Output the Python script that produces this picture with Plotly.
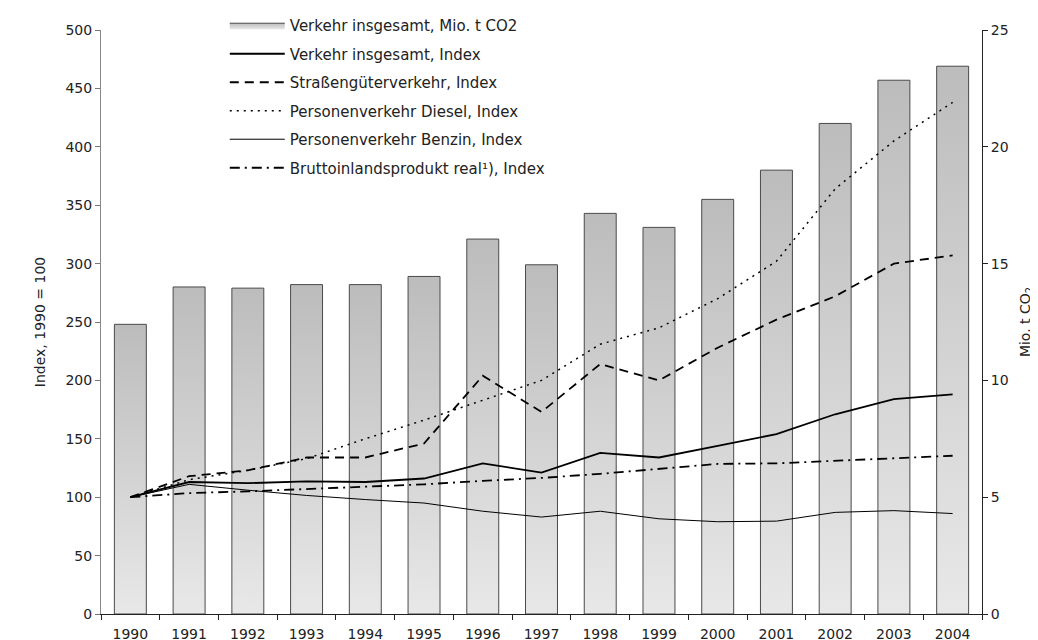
import plotly.graph_objects as go

years = list(range(1990, 2005))
year_labels = [str(y) for y in years]

co2_total = [12.4, 14.0, 13.95, 14.1, 14.1, 14.45, 16.05, 14.95, 17.15, 16.55, 17.75, 19.0, 21.0, 22.85, 23.45]
idx_total = [100, 113, 112, 113.5, 113, 116, 129, 121, 138, 134, 144, 154, 171, 184, 188]
idx_road_freight = [100, 118, 123, 134, 134, 146, 204, 173, 214, 200, 228, 252, 272, 300, 307]
idx_diesel = [100, 115, 123, 133, 150, 166, 183, 200, 231, 245, 270, 302, 364, 405, 438]
idx_petrol = [100, 111, 106, 101.5, 98, 95, 88, 83, 88, 81.5, 79, 79.5, 87, 88.5, 86]
idx_gdp = [100, 103.5, 105, 107, 109.5, 111, 114, 116.5, 120, 124, 128.5, 129, 131, 133, 135.5]

names = [
    "Verkehr insgesamt, Mio. t CO2",
    "Verkehr insgesamt, Index",
    "Straßengüterverkehr, Index",
    "Personenverkehr Diesel, Index",
    "Personenverkehr Benzin, Index",
    "Bruttoinlandsprodukt real¹), Index",
]

FONT = "DejaVu Sans"
half = 0.272

fig = go.Figure()

# Bars with vertical gradient (polygons built from the data arrays)
for i, (yr, v) in enumerate(zip(years, co2_total)):
    fig.add_trace(go.Scatter(
        x=[yr - half, yr - half, yr + half, yr + half, yr - half],
        y=[0, v, v, 0, 0],
        mode="lines",
        fill="toself",
        fillgradient=dict(type="vertical",
                          colorscale=[[0, "#e8e8e8"], [1, "#bcbcbc"]]),
        line=dict(color="#4a4a4a", width=1),
        name=names[0],
        legendgroup="g0",
        showlegend=(i == 0),
        hoverinfo="skip",
        yaxis="y",
    ))

line_specs = [
    (idx_total, names[1], dict(color="black", width=1.8, dash="solid")),
    (idx_road_freight, names[2], dict(color="black", width=1.8, dash="9px,6px")),
    (idx_diesel, names[3], dict(color="black", width=1.5, dash="2px,5px")),
    (idx_petrol, names[4], dict(color="black", width=1, dash="solid")),
    (idx_gdp, names[5], dict(color="black", width=1.8, dash="10px,5px,2px,5px")),
]
for k, (vals, nm, ln) in enumerate(line_specs):
    fig.add_trace(go.Scatter(
        x=years, y=vals, mode="lines", name=nm, line=ln,
        legendgroup=f"g{k+1}", yaxis="y2",
    ))

fig.update_layout(
    width=1038, height=640,
    paper_bgcolor="white", plot_bgcolor="white",
    margin=dict(l=93, r=64, t=22, b=34, autoexpand=False),
    font=dict(family=FONT, size=14, color="#222"),
    showlegend=True,
    legend=dict(
        x=0.1405, y=1.036, xanchor="left", yanchor="top",
        bgcolor="rgba(0,0,0,0)", itemwidth=55,
        tracegroupgap=6, font=dict(family=FONT, size=15),
    ),
    xaxis=dict(
        range=[1989.5, 2004.5],
        tickmode="array", tickvals=years, ticktext=year_labels,
        ticks="", showline=True, linecolor="#222", linewidth=1,
        showgrid=False, zeroline=False, ticklabelstandoff=7,
        minor=dict(tick0=1989.5, dtick=1, ticks="outside", ticklen=5,
                   tickcolor="#222", showgrid=False),
        tickfont=dict(family=FONT, size=14),
    ),
    yaxis=dict(
        side="right", range=[0, 25], dtick=5,
        ticks="outside", ticklen=5, tickcolor="#222",
        showline=True, linecolor="#222", linewidth=1,
        showgrid=False, zeroline=False,
        title=dict(text="Mio. t CO<sub>2</sub>", font=dict(family=FONT, size=14), standoff=12),
        tickfont=dict(family=FONT, size=14),
    ),
    yaxis2=dict(
        overlaying="y", side="left", range=[0, 500], dtick=50,
        ticks="outside", ticklen=5, tickcolor="#777",
        showline=True, linecolor="#888", linewidth=1,
        showgrid=False, zeroline=False,
        title=dict(text="Index, 1990 = 100", font=dict(family=FONT, size=14), standoff=16),
        tickfont=dict(family=FONT, size=14),
    ),
    yaxis3=dict(
        overlaying="y", side="right", range=[0, 25], dtick=5,
        ticks="inside", ticklen=5, tickcolor="#222",
        showticklabels=False, showline=False, showgrid=False, zeroline=False,
    ),
)

fig.write_html("out.html")
